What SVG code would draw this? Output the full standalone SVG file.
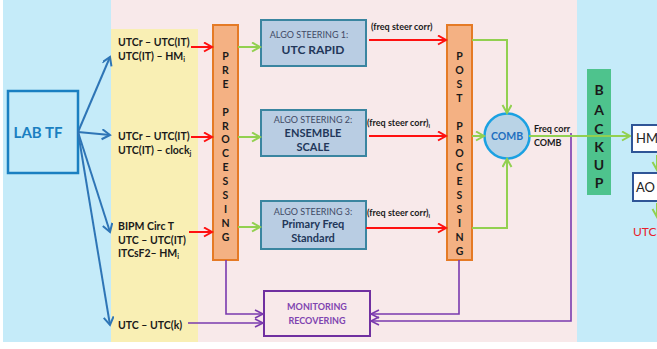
<svg xmlns="http://www.w3.org/2000/svg" width="657" height="349" viewBox="0 0 657 349">
<defs>
<style>
.t{font-family:Lato,"Liberation Sans",sans-serif;}
.lab{font-family:Lato,"Liberation Sans",sans-serif;font-weight:bold;font-size:10.5px;fill:#1a1a1a;}
.vl{font-family:Lato,"Liberation Sans",sans-serif;font-weight:bold;font-size:10.5px;fill:#1a1a1a;text-anchor:middle;}
.bk{font-family:Lato,"Liberation Sans",sans-serif;font-weight:bold;font-size:14px;fill:#1a1a1a;text-anchor:middle;}
.proc{fill:#F4B183;stroke:#E57A25;stroke-width:2;}
.algo{fill:#B9CDE3;stroke:#3A85A0;stroke-width:2;}
.ah{font-family:Lato,"Liberation Sans",sans-serif;font-size:9px;fill:#3F4A66;text-anchor:middle;}
.at{font-family:Lato,"Liberation Sans",sans-serif;font-weight:bold;font-size:12px;fill:#22375A;text-anchor:middle;}
.at2{font-family:Lato,"Liberation Sans",sans-serif;font-weight:bold;font-size:11px;fill:#22375A;text-anchor:middle;}
.fs{font-family:Lato,"Liberation Sans",sans-serif;font-weight:bold;font-size:9px;fill:#1a1a1a;}
.blue{stroke:#2E75B6;stroke-width:2;fill:none;}
.red{stroke:#FF1010;stroke-width:2;fill:none;}
.green{stroke:#92D050;stroke-width:2;fill:none;}
.purple{stroke:#7A3AAE;stroke-width:1.6;fill:none;}
.out{fill:#FFFFFF;stroke:#2F5597;stroke-width:2;}
</style>
<marker id="mb" markerUnits="userSpaceOnUse" markerWidth="12" markerHeight="12" refX="9" refY="5" orient="auto"><path d="M1,0 L9,5 L1,10" fill="none" stroke="#2E75B6" stroke-width="2"/></marker>
<marker id="mr" markerUnits="userSpaceOnUse" markerWidth="12" markerHeight="12" refX="9" refY="5" orient="auto"><path d="M1,0.5 L9,5 L1,9.5" fill="none" stroke="#FF1010" stroke-width="2"/></marker>
<marker id="mg" markerUnits="userSpaceOnUse" markerWidth="12" markerHeight="12" refX="9" refY="5" orient="auto"><path d="M1,0.5 L9,5 L1,9.5" fill="none" stroke="#92D050" stroke-width="2"/></marker>
<marker id="mp" markerUnits="userSpaceOnUse" markerWidth="12" markerHeight="12" refX="9" refY="5" orient="auto"><path d="M1,1 L9,5 L1,9" fill="none" stroke="#7A3AAE" stroke-width="1.6"/></marker>
</defs>
<rect width="657" height="349" fill="#FFFFFF"/>
<!-- backgrounds -->
<rect x="3" y="0" width="108" height="342" fill="#C5EBF9"/>
<rect x="111" y="0" width="466" height="342" fill="#F8E9EA"/>
<rect x="577" y="0" width="80" height="342" fill="#C5EBF9"/>
<rect x="111" y="29" width="87" height="313" fill="#F9EFB4"/>

<g id="labtf">
<rect x="8" y="91" width="70" height="82" fill="#C5EBF9" stroke="#1A7FC1" stroke-width="2.5"/>
<text x="38" y="138" class="t" font-size="15" font-weight="bold" fill="#1A7FC1" text-anchor="middle">LAB TF</text>
</g>

<g id="inputs">
<text x="118" y="46" class="lab">UTCr – UTC(IT)</text>
<text x="118" y="60" class="lab">UTC(IT) – HM<tspan font-size="7" dy="2">i</tspan></text>
<text x="118" y="140" class="lab">UTCr – UTC(IT)</text>
<text x="118" y="154" class="lab">UTC(IT) – clock<tspan font-size="7" dy="2">j</tspan></text>
<text x="118" y="230" class="lab">BIPM Circ T</text>
<text x="118" y="244" class="lab">UTC – UTC(IT)</text>
<text x="118" y="257" class="lab">ITCsF2– HM<tspan font-size="7" dy="2">i</tspan></text>
<text x="118" y="329" class="lab">UTC – UTC(k)</text>
</g>

<g id="pre">
<rect x="213" y="25" width="25" height="235" class="proc"/>
<text class="vl"><tspan x="225.5" y="60">P</tspan><tspan x="225.5" y="74">R</tspan><tspan x="225.5" y="88">E</tspan><tspan x="225.5" y="116">P</tspan><tspan x="225.5" y="130">R</tspan><tspan x="225.5" y="143">O</tspan><tspan x="225.5" y="157">C</tspan><tspan x="225.5" y="171">E</tspan><tspan x="225.5" y="185">S</tspan><tspan x="225.5" y="199">S</tspan><tspan x="225.5" y="213">I</tspan><tspan x="225.5" y="227">N</tspan><tspan x="225.5" y="241">G</tspan></text>
</g>

<g id="algo1">
<rect x="261" y="20" width="105" height="46" class="algo"/>
<text x="309" y="38" class="ah">ALGO STEERING  1:</text>
<text x="313" y="54" class="at">UTC RAPID</text>
</g>
<g id="algo2">
<rect x="261" y="110" width="105" height="46" class="algo"/>
<text x="313" y="123" class="ah">ALGO STEERING  2:</text>
<text x="313" y="137" class="at2">ENSEMBLE</text>
<text x="313" y="151" class="at2">SCALE</text>
</g>
<g id="algo3">
<rect x="261" y="201" width="105" height="48" class="algo"/>
<text x="313" y="215" class="ah">ALGO STEERING  3:</text>
<text x="313" y="228" class="at2">Primary Freq</text>
<text x="313" y="242" class="at2">Standard</text>
</g>

<g id="post">
<rect x="447" y="25" width="25" height="235" class="proc"/>
<text class="vl"><tspan x="459.5" y="60">P</tspan><tspan x="459.5" y="74">O</tspan><tspan x="459.5" y="88">S</tspan><tspan x="459.5" y="102">T</tspan><tspan x="459.5" y="130">P</tspan><tspan x="459.5" y="143">R</tspan><tspan x="459.5" y="157">O</tspan><tspan x="459.5" y="171">C</tspan><tspan x="459.5" y="185">E</tspan><tspan x="459.5" y="199">S</tspan><tspan x="459.5" y="213">S</tspan><tspan x="459.5" y="227">I</tspan><tspan x="459.5" y="241">N</tspan><tspan x="459.5" y="255">G</tspan></text>
</g>

<g id="comb">
<circle cx="507" cy="136" r="22.5" fill="#B9D3E6" stroke="#1BA1E2" stroke-width="2.5"/>
<text x="507" y="140" class="t" font-size="10.5" font-weight="bold" fill="#1F6FBF" text-anchor="middle">COMB</text>
</g>

<g id="monitoring">
<rect x="264" y="291" width="106" height="45" fill="#F8E9EA" stroke="#7030A0" stroke-width="2"/>
<text x="317" y="310" class="t" font-size="9" font-weight="bold" fill="#8044B0" text-anchor="middle">MONITORING</text>
<text x="317" y="324" class="t" font-size="9" font-weight="bold" fill="#8044B0" text-anchor="middle">RECOVERING</text>
</g>

<g id="connectors">
<path class="blue" d="M78,132 L110,57" marker-end="url(#mb)"/>
<path class="blue" d="M78,132 L110,135" marker-end="url(#mb)"/>
<path class="blue" d="M78,132 L110,232" marker-end="url(#mb)"/>
<path class="blue" d="M78,132 L110,325" marker-end="url(#mb)"/>
<path class="red" d="M191,47 H212" marker-end="url(#mr)"/>
<path class="red" d="M191,137 H212" marker-end="url(#mr)"/>
<path class="red" d="M189,232 H212" marker-end="url(#mr)"/>
<path class="green" d="M238,47 H260" marker-end="url(#mg)"/>
<path class="green" d="M238,137 H260" marker-end="url(#mg)"/>
<path class="green" d="M238,227 H260" marker-end="url(#mg)"/>
<path class="red" d="M369,40 H446" marker-end="url(#mr)"/>
<path class="red" d="M369,136 H446" marker-end="url(#mr)"/>
<path class="red" d="M366,228 H446" marker-end="url(#mr)"/>
<path class="green" d="M472,40 H507 V113" marker-end="url(#mg)"/>
<path class="green" d="M472,136 H484" marker-end="url(#mg)"/>
<path class="green" d="M472,228 H507 V159" marker-end="url(#mg)"/>
<path class="purple" d="M226,260 V314 H263" marker-end="url(#mp)"/>
<path class="purple" d="M188,323 H263" marker-end="url(#mp)"/>
<path class="purple" d="M459,260 V314 H371" marker-end="url(#mp)"/>
<path class="purple" d="M571,133 V321 H371" marker-end="url(#mp)"/>
</g>

<g id="labels">
<text x="371" y="30" class="fs">(freq steer corr)</text>
<text x="367" y="126" class="fs">(freq steer corr)<tspan font-size="6" dy="2">i</tspan></text>
<text x="367" y="216" class="fs">(freq steer corr)<tspan font-size="6" dy="2">i</tspan></text>
<text x="534" y="132" class="t" font-size="9" font-weight="bold" fill="#1a1a1a">Freq  corr</text>
<text x="534" y="146" class="t" font-size="9" font-weight="bold" fill="#1a1a1a">COMB</text>
</g>

<g id="backup">
<rect x="587" y="69" width="24" height="126" fill="#4EC38D"/>
<text class="bk"><tspan x="599" y="95">B</tspan><tspan x="599" y="115">A</tspan><tspan x="599" y="134">C</tspan><tspan x="599" y="152">K</tspan><tspan x="599" y="170">U</tspan><tspan x="599" y="188">P</tspan></text>
</g>

<g id="connectors2">
<path class="green" d="M529,136 H630" marker-end="url(#mg)"/>
<path class="green" d="M657,155 V170" marker-end="url(#mg)"/>
<path class="green" d="M657,203 V217" marker-end="url(#mg)"/>
</g>

<g id="hm">
<rect x="632" y="125" width="40" height="27" class="out"/>
<text x="636" y="143" class="t" font-size="13" fill="#222">HM</text>
</g>
<g id="ao">
<rect x="633" y="173" width="40" height="28" class="out"/>
<text x="636" y="192" class="t" font-size="13" fill="#222">AO</text>
</g>
<g id="utc">
<text x="633" y="236" class="t" font-size="12" fill="#E8202A">UTC</text>
</g>
</svg>
